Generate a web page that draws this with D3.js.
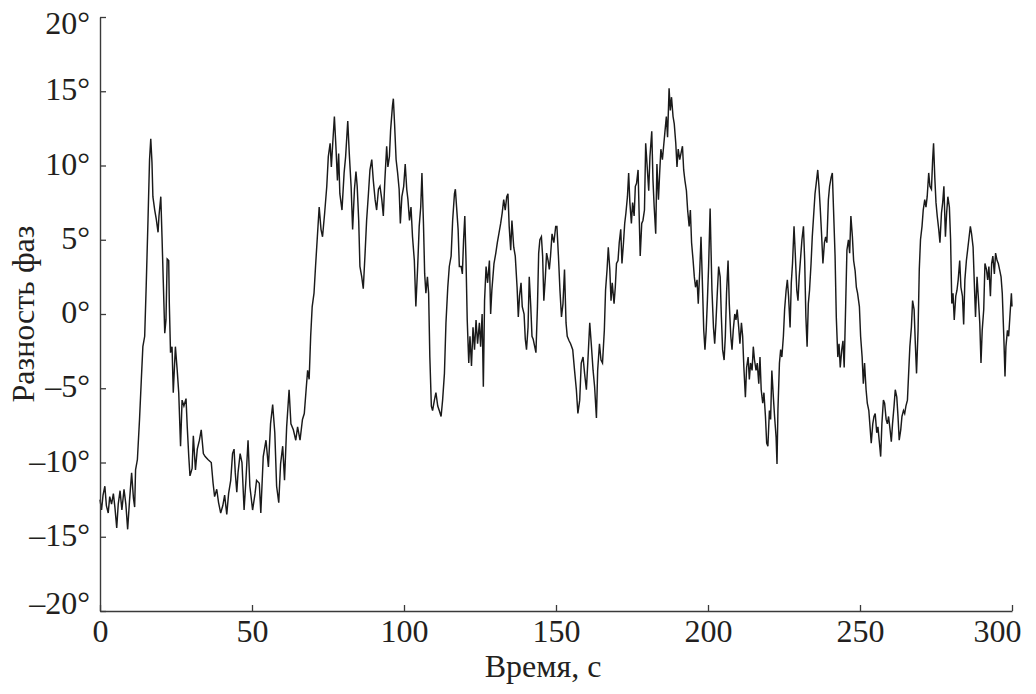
<!DOCTYPE html>
<html><head><meta charset="utf-8">
<script src="https://cdn.jsdelivr.net/npm/d3@7"></script>
<style>
html,body{margin:0;padding:0;background:#fff;}
svg{display:block;}
text{font-family:"Liberation Serif","Times New Roman",serif;}
</style></head><body>
<svg id="chart" width="1036" height="694"></svg>
<script>
const xTicks = [0, 50, 100, 150, 200, 250, 300];
const xTickLabels = ["0", "50", "100", "150", "200", "250", "300"];
const yTicks = [-20, -15, -10, -5, 0, 5, 10, 15, 20];
const yTickLabels = ["–20°", "–15°", "–10°", "–5°", "0°", "5°", "10°", "15°", "20°"];
const xTitle = "Время, с";
const yTitle = "Разность фаз";

// time, s
const time = [
0,0.5,1.0,1.6,2.1,2.7,3.2,3.8,4.4,4.9,5.5,6.0,6.6,7.2,7.9,8.5,9.1,9.7,10.4,11.0,11.4,11.7,12.3,13.0,13.6,14.1,14.7,15.2,15.8,16.3,16.7,17.1,17.4,18.0,18.5,19.1,19.4,20.0,20.4,20.8,21.3,21.7,22.1,22.6,22.8,23.2,23.7,24.1,24.8,25.4,25.9,26.5,27.0,27.6,28.3,28.7,29.2,29.6,30.3,30.7,31.4,32.0,32.7,33.3,34.0,34.6,35.5,36.6,37.2,37.7,38.4,39.0,39.7,40.4,41.0,41.7,42.3,43.0,43.6,44.1,44.5,45.0,45.4,46.1,46.7,47.4,48.0,48.7,49.3,
50.2,51.0,51.5,52.4,52.9,53.7,54.6,55.4,56.1,56.8,57.5,58.1,58.8,59.4,60.1,60.7,61.4,62.2,62.8,63.6,64.4,65.0,65.8,66.6,67.2,67.8,68.3,68.8,69.3,69.8,70.4,70.9,71.5,72.1,72.7,73.2,73.9,74.6,75.1,75.7,76.1,76.5,77.1,77.6,78.1,78.5,78.9,79.6,80.3,80.8,81.5,82.0,82.6,83.1,83.7,84.2,84.6,85.1,85.5,86.1,86.6,87.2,87.7,88.3,88.8,89.4,89.9,90.5,91.0,91.6,92.1,92.7,93.2,93.7,94.3,94.7,95.2,95.6,96.2,96.5,96.9,97.4,97.9,98.4,98.8,99.3,
99.9,100.4,100.9,101.3,101.8,102.3,102.8,103.4,103.9,104.5,105.0,105.5,105.9,106.4,106.8,107.2,107.7,108.1,108.5,109.0,109.4,110.0,110.5,111.1,111.6,112.2,112.7,113.3,113.8,114.4,114.9,115.5,116.0,116.6,116.9,117.3,117.8,118.2,118.8,119.2,119.6,120.0,120.4,120.8,121.3,121.7,122.2,122.7,123.2,123.7,124.2,124.8,125.2,125.7,126.1,126.5,127.0,127.5,128.1,128.5,128.9,129.6,130.2,130.7,131.2,131.8,132.3,132.8,133.3,133.8,134.2,134.6,135.1,135.5,136.1,136.6,137.2,137.6,138.0,138.5,138.9,139.5,139.9,140.3,140.8,141.2,141.7,142.1,142.5,143.0,143.4,143.9,144.3,144.7,145.2,145.6,146.0,146.5,146.9,147.4,147.8,148.2,148.7,
149.3,149.9,150.3,150.8,151.3,151.8,152.3,152.8,153.3,153.7,154.3,154.8,155.5,156.1,156.7,157.2,157.8,158.3,158.9,159.4,160.0,160.5,161.1,161.6,162.2,162.7,163.3,163.7,164.3,164.8,165.3,165.9,166.3,166.8,167.2,167.7,168.1,168.5,169.1,169.5,169.9,170.4,170.8,171.3,171.7,172.2,172.6,173.0,173.5,173.9,174.3,174.8,175.2,175.7,176.1,176.5,177.0,177.4,177.7,178.2,178.6,179.1,179.5,180.0,180.5,180.9,181.5,181.9,182.3,182.8,183.2,183.7,184.1,184.5,185.0,185.4,185.8,186.3,186.7,187.2,187.6,188.0,188.5,188.9,189.4,189.8,190.2,190.7,191.1,191.6,192.0,192.4,192.9,193.3,193.8,194.2,194.6,195.1,195.5,195.9,196.4,196.8,197.3,197.7,198.1,198.6,199.0,199.4,
199.8,200.2,200.7,201.0,201.3,201.8,202.2,202.6,203.1,203.5,204.0,204.4,204.8,205.3,205.7,206.1,206.6,207.0,207.5,207.9,208.3,208.8,209.2,209.6,210.1,210.5,211.0,211.4,211.8,212.3,212.7,213.2,213.6,214.0,214.5,214.9,215.3,215.8,216.2,216.7,217.1,217.5,218.0,218.4,218.9,219.3,219.7,220.2,220.6,221.0,221.5,221.9,222.4,222.7,223.0,223.5,223.9,224.3,224.8,225.2,225.7,226.1,226.5,227.0,227.4,227.8,228.3,228.7,229.2,229.6,230.0,230.5,230.9,231.4,231.8,232.2,232.6,233.0,233.4,233.9,234.3,234.8,235.2,235.6,236.1,236.5,236.9,237.4,237.8,238.3,238.7,239.1,239.6,240.0,240.5,240.9,241.3,241.8,242.2,242.7,243.1,243.5,244.0,244.4,244.8,245.3,245.7,246.2,246.6,247.0,247.5,247.9,248.4,248.8,249.2,
249.8,250.2,250.7,251.1,251.5,252.0,252.4,252.9,253.3,253.7,254.2,254.6,255.0,255.5,255.9,256.4,256.8,257.2,257.7,258.1,258.6,259.0,259.4,259.9,260.3,260.7,261.2,261.6,262.1,262.5,262.9,263.4,263.8,264.3,264.7,265.1,265.6,266.0,266.4,266.9,267.3,267.8,268.2,268.6,269.1,269.5,269.9,270.4,270.8,271.3,271.7,272.1,272.6,273.0,273.5,273.9,274.2,274.6,275.0,275.4,275.9,276.3,276.8,277.2,277.6,278.1,278.5,278.9,279.4,279.8,280.2,280.6,281.0,281.5,281.9,282.3,282.8,283.2,283.7,284.1,284.5,285.0,285.4,285.9,286.3,286.7,287.2,287.6,288.0,288.5,288.9,289.4,289.8,290.2,290.7,291.1,291.6,292.0,292.4,292.9,293.3,293.7,294.2,294.6,295.1,295.5,295.9,296.4,296.8,297.3,297.7,298.0,298.5,298.9,299.3,299.8,300.0
];

// phase difference, degrees
const phase = [
-12.5,-13.2,-12.2,-11.6,-12.9,-13.4,-12.3,-12.8,-12.1,-13.0,-14.4,-12.8,-11.9,-13.2,-11.8,-12.8,-14.5,-12.6,-10.7,-12.4,-13.0,-10.5,-9.8,-7.1,-4.4,-2.2,-1.5,1.9,6.4,10.4,11.8,10.2,7.9,7.0,6.4,5.5,6.6,7.9,5.2,2.3,-1.3,-0.4,3.7,3.6,0.7,-2.6,-2.2,-5.3,-2.2,-3.8,-5.3,-8.9,-5.8,-6.2,-5.7,-7.6,-9.6,-10.9,-10.4,-8.2,-10.5,-9.1,-8.5,-7.8,-9.4,-9.6,-9.8,-10.0,-11.4,-12.3,-11.8,-12.7,-13.4,-12.9,-12.2,-13.5,-12.1,-11.2,-9.4,-9.1,-10.7,-12.0,-10.7,-9.4,-10.0,-13.2,-11.2,-8.5,-11.6,
-13.2,-12.1,-11.2,-11.4,-13.4,-9.6,-8.5,-10.3,-7.4,-6.1,-8.0,-11.6,-12.7,-10.1,-8.9,-11.2,-7.6,-5.1,-7.4,-7.8,-8.5,-7.6,-8.5,-7.1,-6.7,-5.1,-3.8,-4.4,-1.5,0.5,1.4,3.2,5.2,7.2,5.7,5.2,6.8,8.6,10.6,11.5,9.9,11.3,13.3,11.3,9.0,10.8,8.1,7.0,9.5,10.6,13.0,10.8,8.6,5.7,8.4,9.6,8.6,6.3,3.2,2.5,1.7,4.1,6.3,8.1,9.7,10.4,9.0,7.7,7.0,8.4,8.6,7.7,6.6,9.0,11.3,9.9,10.6,12.4,14.0,14.5,12.8,10.4,9.5,8.4,6.1,7.9,
8.6,10.1,8.4,7.7,6.3,7.2,5.2,3.6,0.5,3.2,5.9,7.2,9.5,6.1,2.7,1.4,2.5,1.4,-2.9,-6.2,-6.5,-5.8,-5.3,-6.2,-6.5,-6.9,-5.8,-4.0,-0.6,1.8,3.2,3.9,6.3,8.1,8.4,7.2,5.7,3.2,3.2,2.7,5.0,6.6,3.6,-0.4,-3.3,-1.5,-3.5,-0.9,-2.4,-0.4,-2.0,-0.6,-2.2,0.0,-4.9,0.9,3.2,2.1,3.6,0.0,1.6,3.4,4.1,4.8,5.4,6.1,6.8,7.7,7.0,7.9,8.1,5.9,4.3,6.3,4.5,3.9,1.8,-0.2,1.2,2.1,0.5,0.0,-1.7,-2.4,-0.9,2.5,0.5,-1.5,-1.7,-2.2,-2.6,0.5,4.1,5.0,5.2,3.9,0.9,2.5,4.1,3.6,3.0,3.9,5.4,
4.8,5.9,5.9,3.9,1.6,-0.2,0.7,3.0,-0.6,-1.5,-1.8,-2.0,-2.4,-3.8,-5.1,-6.7,-5.8,-3.3,-2.9,-4.0,-5.1,-3.1,-0.6,-2.0,-3.8,-4.9,-7.0,-3.8,-2.0,-3.1,-3.3,-1.1,1.6,3.0,4.5,3.0,0.9,2.1,0.7,1.8,3.4,3.6,4.8,5.7,3.4,4.8,6.1,6.8,7.9,9.5,7.5,6.1,7.5,6.6,8.6,8.8,9.7,6.3,3.9,6.1,6.3,7.0,11.5,9.9,8.3,10.6,12.3,9.0,7.2,5.4,10.1,7.7,9.5,11.1,10.4,11.3,12.2,13.3,11.9,15.2,13.7,14.6,13.3,12.8,11.5,9.9,11.1,10.4,10.8,11.3,9.7,9.0,8.3,7.0,5.9,7.0,4.8,3.6,2.5,1.8,2.3,0.7,3.0,5.2,2.5,-1.1,-2.4,-1.1,
0.9,3.2,7.1,4.3,1.6,-0.9,-2.0,-0.6,1.6,3.2,2.5,-0.2,-2.4,-3.1,-1.5,1.4,3.6,0.7,-1.5,-2.4,-1.1,0.0,-0.4,0.3,-0.9,-2.0,-0.6,-1.5,-3.6,-5.6,-3.6,-2.9,-4.4,-3.3,-3.8,-2.2,-3.1,-3.8,-3.3,-4.7,-2.9,-5.1,-6.0,-5.3,-6.9,-8.7,-8.9,-6.5,-7.1,-3.8,-5.6,-6.9,-8.3,-10.1,-6.5,-3.3,-2.4,-2.9,-1.5,0.3,1.6,2.3,1.2,-0.9,2.1,3.4,5.9,4.1,1.6,0.9,2.5,3.9,5.0,5.9,3.6,-0.2,-2.2,0.7,1.6,3.4,5.2,6.8,8.1,8.8,9.7,8.6,7.2,5.2,3.4,4.8,5.2,4.8,7.7,8.6,9.2,9.5,7.0,3.9,-0.2,-2.9,-2.0,-3.6,-2.4,-1.8,-3.6,0.7,4.3,5.0,4.1,6.6,5.2,3.6,2.9,1.8,1.4,
0.5,-1.5,-2.9,-4.7,-3.3,-5.1,-6.0,-6.5,-7.6,-8.7,-7.4,-6.9,-6.7,-8.0,-7.6,-8.7,-9.6,-7.4,-5.8,-6.0,-7.1,-7.4,-6.9,-7.8,-8.6,-7.4,-6.2,-5.1,-5.6,-6.9,-8.5,-7.8,-6.9,-6.5,-6.7,-6.2,-5.8,-4.0,-2.2,-0.9,0.9,0.3,-2.0,-4.0,-1.1,3.0,5.0,5.9,7.0,7.7,7.2,7.9,9.5,8.6,8.4,10.4,11.5,9.2,7.5,6.6,5.7,4.8,6.8,7.5,8.6,5.2,6.8,7.9,7.2,5.0,0.7,1.4,-0.4,1.2,1.6,2.3,3.6,1.8,1.2,-0.7,2.3,3.6,4.3,5.2,5.9,5.4,4.5,2.1,-0.2,2.5,1.2,-0.6,-3.3,-1.1,0.3,3.4,3.0,2.3,3.2,1.2,3.4,3.9,2.7,4.1,3.6,3.4,3.0,2.5,1.4,-1.5,-4.2,-2.2,-1.1,-1.5,-0.2,1.4,0.5
];

const W = 1036, H = 694;
const svg = d3.select("#chart");
const x = d3.scaleLinear().domain([0, 300]).range([100, 1012]);
const y = d3.scaleLinear().domain([-20, 20]).range([611, 17]);

const n = Math.min(time.length, phase.length);
const data = d3.range(n).map(i => ({t: time[i], v: phase[i]}));

const line = d3.line().x(d => x(d.t)).y(d => y(d.v));
svg.append("path").datum(data)
  .attr("d", line)
  .attr("fill", "none")
  .attr("stroke", "#1a1a1a")
  .attr("stroke-width", 1.45)
  .attr("stroke-linejoin", "miter");

const fontSize = 32;
const ink = "#231f20";

const xAxis = d3.axisBottom(x).tickValues(xTicks)
  .tickFormat((d, i) => xTickLabels[i])
  .tickSizeInner(-6).tickSizeOuter(0).tickPadding(8);
const gx = svg.append("g").attr("transform", "translate(0,611)").call(xAxis);

const yAxis = d3.axisLeft(y).tickValues(yTicks)
  .tickFormat((d, i) => yTickLabels[i])
  .tickSizeInner(-6).tickSizeOuter(0).tickPadding(10);
const gy = svg.append("g").attr("transform", "translate(100,0)").call(yAxis);

[gx, gy].forEach(g => {
  g.select(".domain").attr("stroke", "#3a3a3a").attr("stroke-width", 1.4);
  g.selectAll(".tick line").attr("stroke", "#3a3a3a").attr("stroke-width", 1.3);
  g.selectAll(".tick text")
    .attr("font-family", '"Liberation Serif","Times New Roman",serif')
    .attr("font-size", fontSize).attr("fill", ink);
});
// end labels nudged inside the frame, as in the reference
gy.selectAll(".tick text").attr("dy", d => d === 20 ? "0.5em" : d === -20 ? "0.07em" : "0.27em");
gx.selectAll(".tick text").attr("dx", d => d === 300 ? -15 : 0);

svg.append("text")
  .attr("x", 543).attr("y", 677)
  .attr("text-anchor", "middle")
  .attr("font-size", fontSize).attr("fill", ink)
  .text(xTitle);

svg.append("text")
  .attr("transform", "translate(34,314) rotate(-90)")
  .attr("text-anchor", "middle")
  .attr("font-size", fontSize).attr("fill", ink)
  .text(yTitle);
</script>
</body></html>
